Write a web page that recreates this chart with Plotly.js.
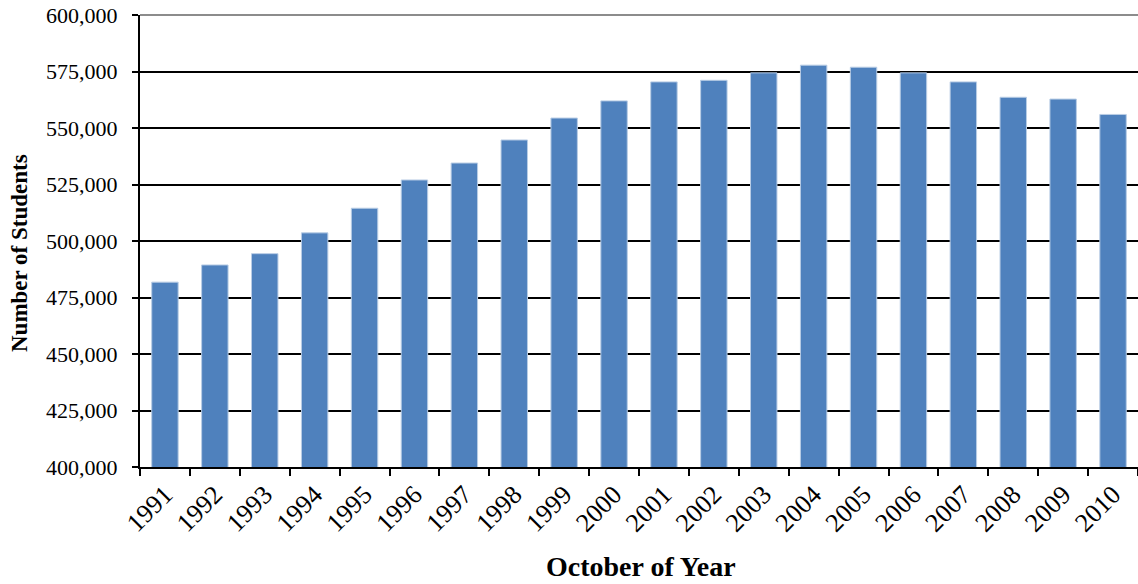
<!DOCTYPE html>
<html>
<head>
<meta charset="utf-8">
<script src="https://cdn.plot.ly/plotly-3.0.1.min.js"></script>
<style>html,body{margin:0;padding:0;background:#fff;}#chart{width:1138px;height:584px;}</style>
</head>
<body>
<div id="chart"></div>
<script>
const years = ['1991','1992','1993','1994','1995','1996','1997','1998','1999','2000',
               '2001','2002','2003','2004','2005','2006','2007','2008','2009','2010'];
const students = [481800, 489400, 494400, 503600, 514500, 527000, 534500, 544700, 554400, 562000,
                  570400, 571100, 574400, 577800, 576900, 574400, 570400, 563600, 562800, 556000];
const yTicks = [400000, 425000, 450000, 475000, 500000, 525000, 550000, 575000, 600000];
const xTitle = 'October of Year';
const yTitle = 'Number of Students';

const font = '"Liberation Serif", "Times New Roman", serif';

const trace = {
  type: 'bar',
  x: years,
  y: students,
  marker: {color: '#4F81BD', line: {color: '#B9CDE5', width: 1}},
  hoverinfo: 'x+y'
};

const layout = {
  width: 1138, height: 584,
  margin: {l: 140, r: 0, t: 15, b: 117},
  paper_bgcolor: '#fff', plot_bgcolor: '#fff',
  showlegend: false,
  bargap: 0.47,
  font: {family: font, color: '#000'},
  xaxis: {
    type: 'category',
    tickangle: -45,
    tickson: 'boundaries',
    ticks: 'outside', ticklen: 7, tickwidth: 2, tickcolor: '#000',
    showline: true, linecolor: '#000', linewidth: 2,
    showgrid: false,
    automargin: false,
    tickfont: {family: font, size: 26, color: '#000'}
  },
  yaxis: {
    range: [400000, 600000],
    tickvals: yTicks,
    tickformat: ',d',
    ticks: 'outside', ticklen: 6, tickwidth: 2, tickcolor: '#000',
    showline: true, linecolor: '#000', linewidth: 2,
    showgrid: true, gridcolor: '#000', gridwidth: 2,
    zeroline: false,
    automargin: false,
    ticklabelstandoff: 10,
    tickfont: {family: font, size: 22, color: '#000'}
  },
  annotations: [
    {text: '<b>' + xTitle + '</b>', xref: 'paper', yref: 'paper', x: 0.502, y: -0.2212,
     xanchor: 'center', yanchor: 'middle', showarrow: false, borderpad: 0,
     font: {family: font, size: 28, color: '#000'}},
    {text: '<b>' + yTitle + '</b>', xref: 'paper', yref: 'paper', x: -0.1202, y: 0.4735,
     xanchor: 'center', yanchor: 'middle', textangle: -90, showarrow: false, borderpad: 0,
     font: {family: font, size: 23, color: '#000'}}
  ],
  shapes: [{
    type: 'line', xref: 'paper', yref: 'paper', x0: 0, x1: 1, y0: 1, y1: 1,
    line: {color: '#8c8c8c', width: 2}
  }]
};

Plotly.newPlot('chart', [trace], layout, {displayModeBar: false, staticPlot: true});
</script>
</body>
</html>
